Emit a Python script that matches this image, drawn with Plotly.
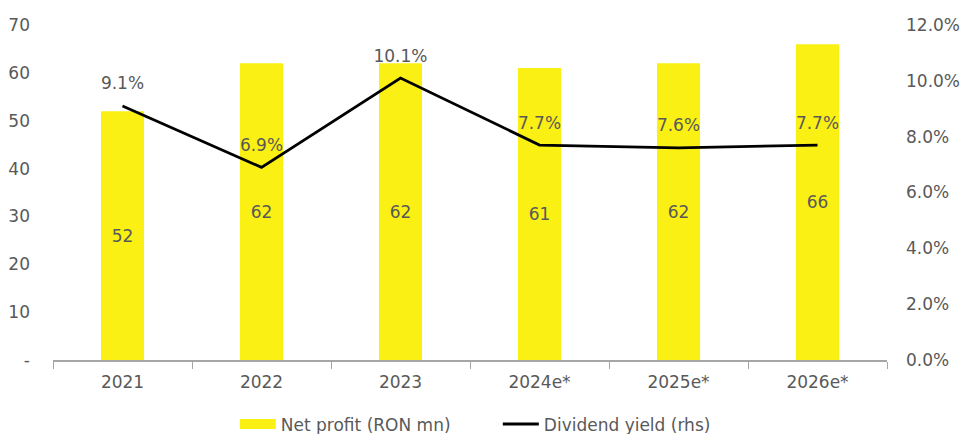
import plotly.graph_objects as go

years = ["2021", "2022", "2023", "2024e*", "2025e*", "2026e*"]
net_profit = [52, 62, 62, 61, 62, 66]
div_yield = [9.1, 6.9, 10.1, 7.7, 7.6, 7.7]

grey = "#595959"
yellow = "#FAF014"
font_family = "'DejaVu Sans', sans-serif"

fig = go.Figure()
fig.add_trace(go.Bar(
    x=years, y=net_profit, name="Net profit (RON mn)",
    marker=dict(color=yellow, line=dict(width=0)),
    width=0.31, showlegend=False,
    text=[str(v) for v in net_profit], textposition="inside",
    insidetextanchor="middle",
    textfont=dict(color=grey, size=17, family=font_family),
))
# legend swatch for the bars: a wide yellow block
fig.add_trace(go.Scatter(
    x=[None], y=[None], name="Net profit (RON mn)", mode="lines",
    line=dict(color=yellow, width=11),
))
fig.add_trace(go.Scatter(
    x=years, y=div_yield, name="Dividend yield (rhs)", yaxis="y2",
    mode="lines", line=dict(color="black", width=2.8),
))
# percentage labels sitting above each point of the yield line
fig.add_trace(go.Scatter(
    x=years, y=div_yield, yaxis="y2", showlegend=False, hoverinfo="skip",
    mode="markers+text", marker=dict(size=18, opacity=0),
    text=[f"{v:.1f}%" for v in div_yield], textposition="top center",
    textfont=dict(color=grey, size=17, family=font_family),
    cliponaxis=False,
))

fig.update_layout(
    width=962, height=434,
    margin=dict(l=53, r=75, t=25, b=74),
    paper_bgcolor="white", plot_bgcolor="white",
    font=dict(family=font_family, size=17, color=grey),
    bargap=0.69,
    showlegend=True,
    legend=dict(orientation="h", x=0.218, xanchor="left",
                yref="container", y=0.022, yanchor="middle",
                font=dict(size=17, color=grey),
                itemwidth=36, entrywidth=212, traceorder="normal"),
    xaxis=dict(
        type="category", showline=True, linecolor="#A6A6A6", linewidth=1.5,
        ticks="outside", ticklen=7, tickcolor="#A6A6A6",
        tickson="boundaries", showgrid=False,
        tickfont=dict(size=17, color=grey), ticklabelstandoff=6,
    ),
    yaxis=dict(
        range=[0, 70], showgrid=False, zeroline=False, automargin=False,
        tickvals=[0, 10, 20, 30, 40, 50, 60, 70],
        ticktext=["-", "10", "20", "30", "40", "50", "60", "70"],
        ticks="", tickfont=dict(size=17, color=grey), ticklabelstandoff=22,
    ),
    yaxis2=dict(
        range=[0, 12], overlaying="y", side="right", showgrid=False,
        zeroline=False, automargin=False, tickvals=[0, 2, 4, 6, 8, 10, 12],
        ticktext=[f"{v:.1f}%" for v in [0, 2, 4, 6, 8, 10, 12]],
        ticks="", tickfont=dict(size=17, color=grey), ticklabelstandoff=18,
    ),
)

fig.write_html("out.html")
